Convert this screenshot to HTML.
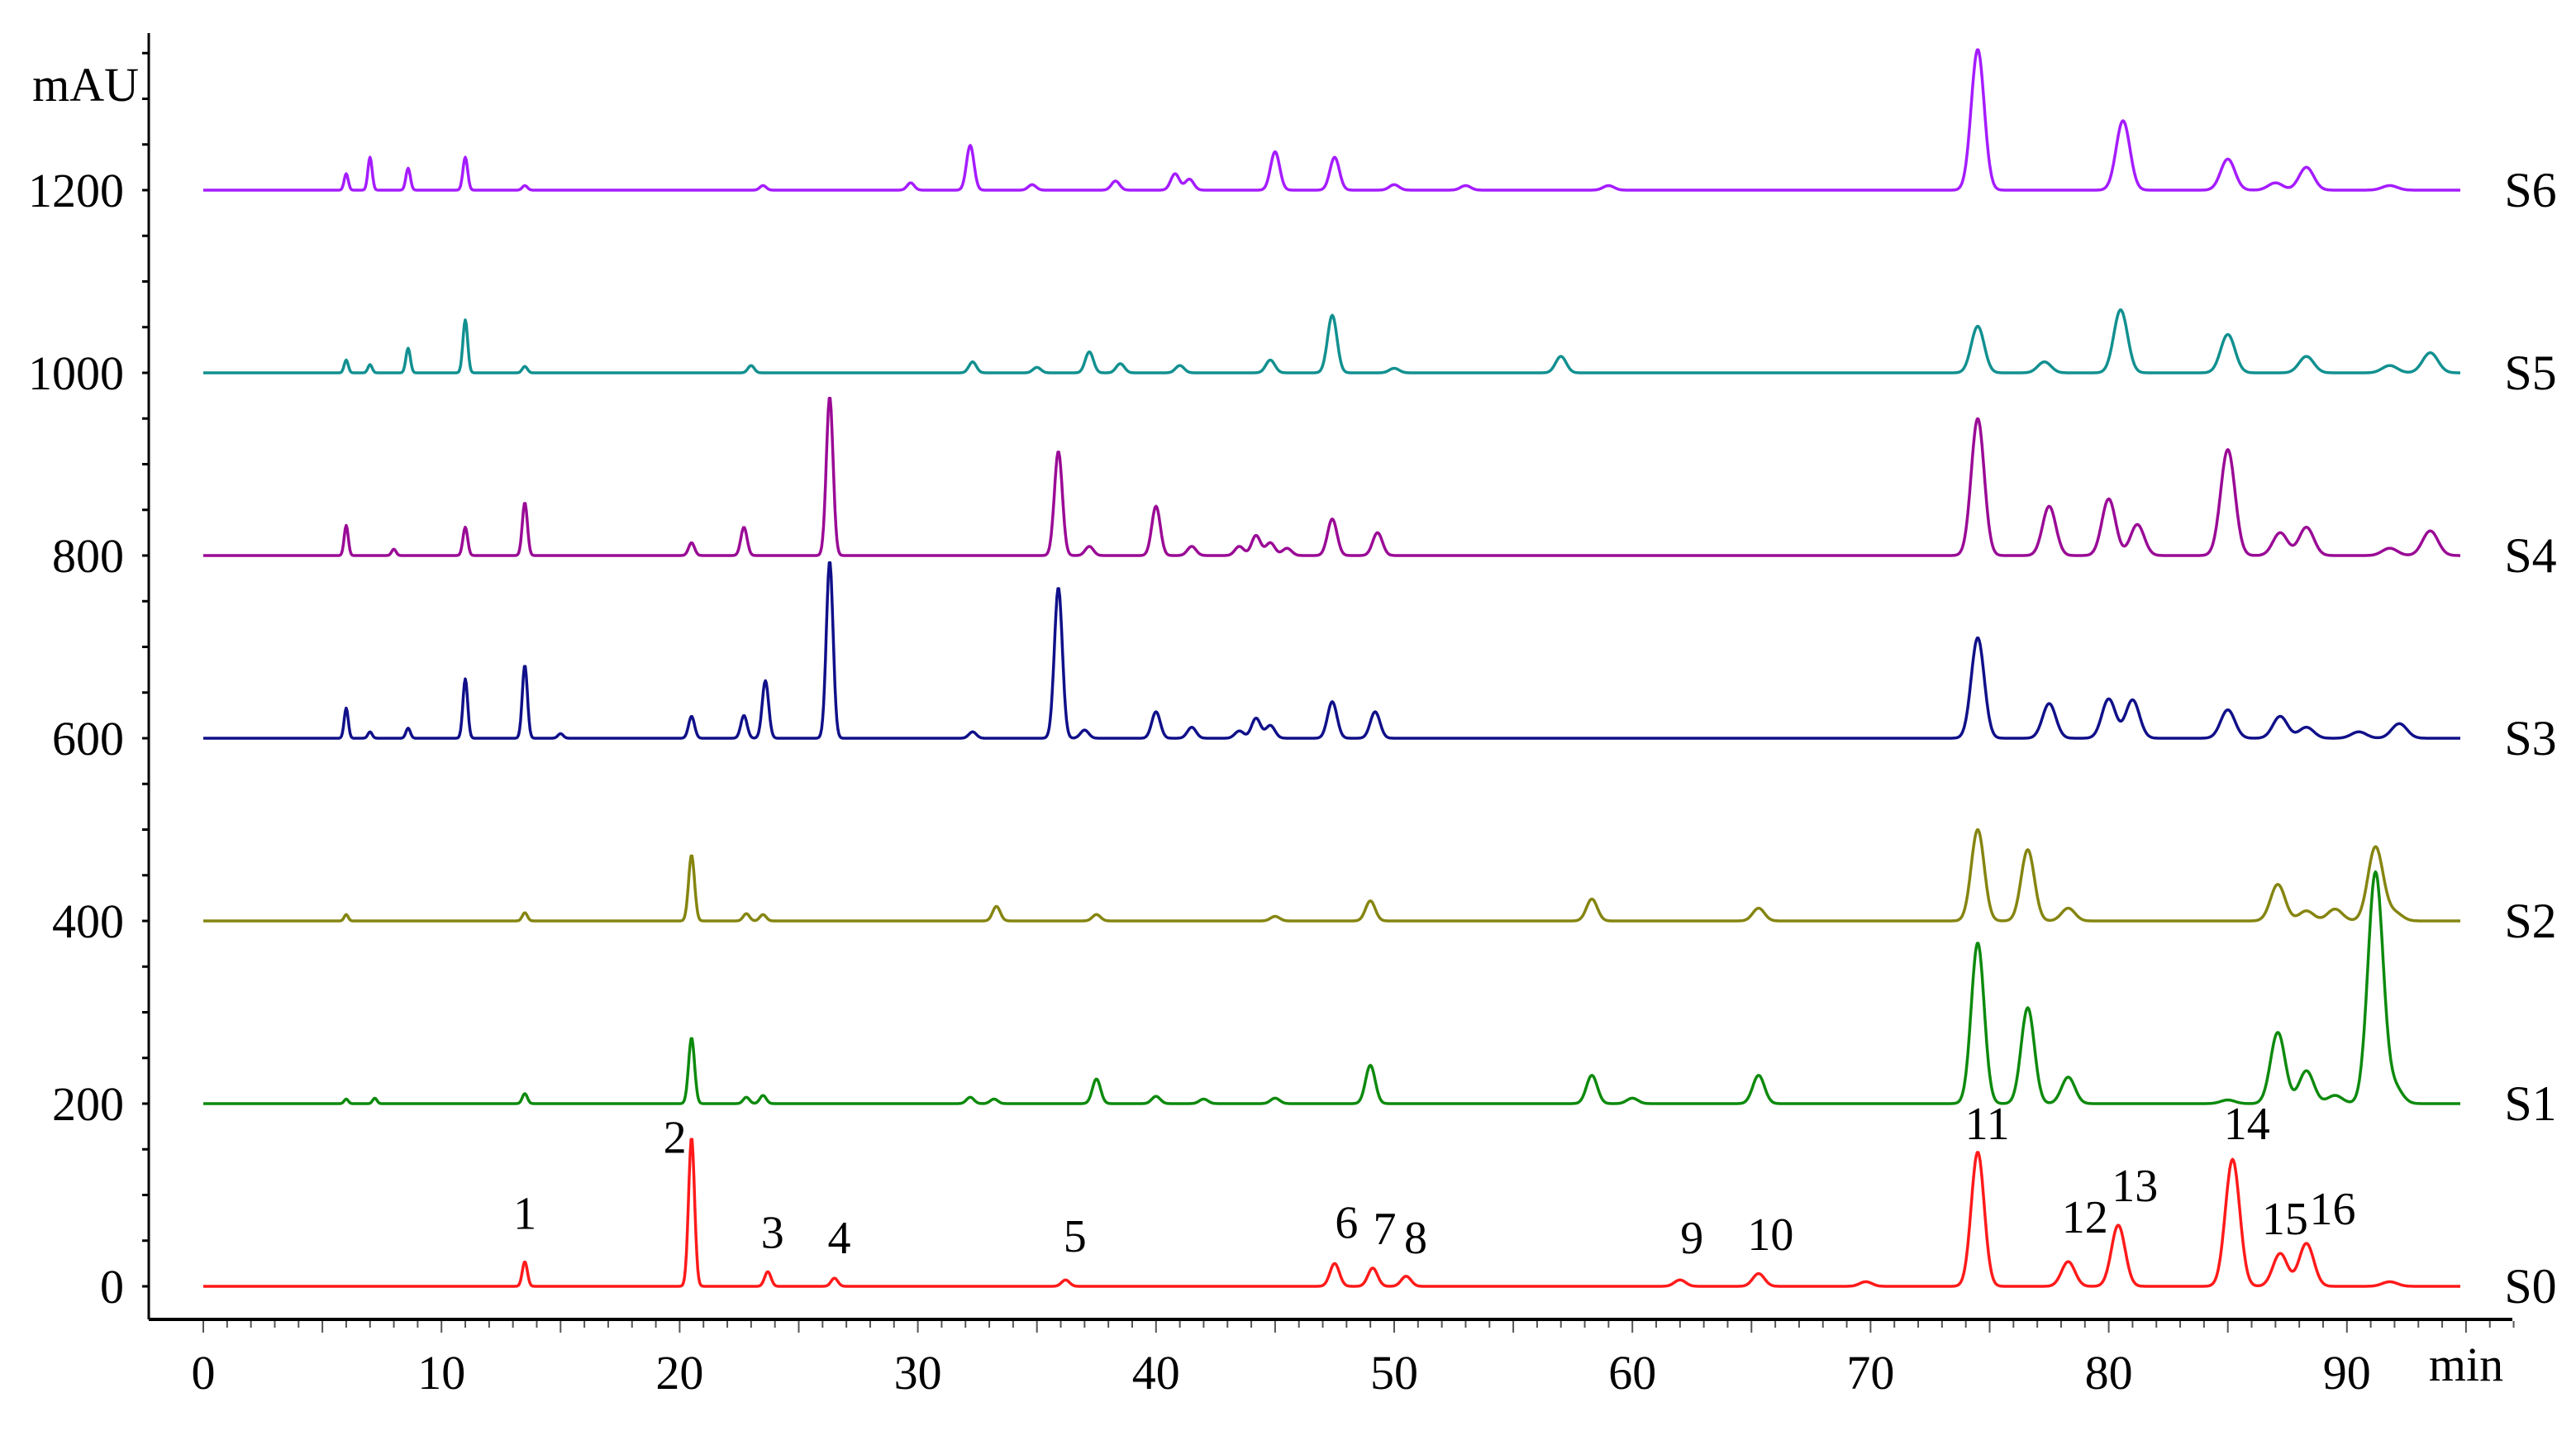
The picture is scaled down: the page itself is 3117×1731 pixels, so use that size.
<!DOCTYPE html>
<html><head><meta charset="utf-8">
<style>
html,body{margin:0;padding:0;background:#fff;}
svg{display:block;}
text{font-family:"Liberation Serif",serif;fill:#000;}
</style></head>
<body>
<svg id="chart" width="3117" height="1731" viewBox="0 0 3117 1731" xmlns="http://www.w3.org/2000/svg">
<g id="axes"></g>
<g id="series"></g>
<g id="labels"></g>
</svg>
<script>
// ---- data ----
const xTickLabels = [0,10,20,30,40,50,60,70,80,90];
const yTickLabels = [0,200,400,600,800,1000,1200];
const seriesNames = ["S0","S1","S2","S3","S4","S5","S6"];
const seriesOffsets = [0,200,400,600,800,1000,1200];
const seriesColors = ["#ff1a1a","#0d8a0d","#858510","#10108a","#9a0a96","#129090","#a51cff"];
// peaks: [time(min), height(mAU)]
const peaksS0 = [[13.5,27],[20.5,163],[23.7,16],[26.5,9],[36.2,7],[47.5,25],[49.1,20],[50.5,11],[62,7],[65.3,14],[69.8,5],[74.5,147],[78.3,27],[80.4,67],[85.2,139],[87.2,36],[88.3,47],[91.8,5]];
const peaksS1 = [[6,5],[7.2,6],[13.5,11],[20.5,72],[22.8,7],[23.5,9],[32.2,7],[33.2,5],[37.5,27],[40,8],[42,5],[45,6],[49,42],[58.3,31],[60,6],[65.3,31],[74.5,176],[76.6,105],[78.3,29],[85,4],[87.1,78],[88.3,36],[89.5,9],[91.2,253],[92,18]];
const peaksS2 = [[6,7],[13.5,9],[20.5,72],[22.8,8],[23.5,7],[33.3,16],[37.5,7],[45,5],[49,22],[58.3,24],[65.3,14],[74.5,100],[76.6,78],[78.3,14],[87.1,40],[88.3,11],[89.5,13],[91.2,81],[92,9]];
const peaksS3 = [[6,33],[7,7],[8.6,11],[11,65],[13.5,80],[15,5],[20.5,24],[22.7,25],[23.6,63],[26.3,194],[32.3,7],[35.9,165],[37,9],[40,29],[41.5,12],[43.5,8],[44.2,22],[44.8,14],[47.4,40],[49.2,29],[74.5,110],[77.5,38],[80,43],[81,42],[85,31],[87.2,24],[88.3,12],[90.5,7],[92.2,16]];
const peaksS4 = [[6,33],[8,7],[11,31],[13.5,58],[20.5,14],[22.7,31],[26.3,174],[35.9,114],[37.2,10],[40,54],[41.5,10],[43.5,10],[44.2,22],[44.8,14],[45.5,8],[47.4,40],[49.3,25],[74.5,150],[77.5,54],[80,62],[81.2,34],[85,116],[87.2,25],[88.3,31],[91.8,8],[93.5,27]];
const peaksS5 = [[6,14],[7,9],[8.6,27],[11,58],[13.5,7],[23,8],[32.3,12],[35,6],[37.2,23],[38.5,10],[41,8],[44.8,14],[47.4,63],[50,5],[57,18],[74.5,51],[77.3,12],[80.5,69],[85,42],[88.3,18],[91.8,8],[93.5,22]];
const peaksS6 = [[6,18],[7,36],[8.6,24],[11,36],[13.5,5],[23.5,5],[29.7,8],[32.2,49],[34.8,6],[38.3,10],[40.8,18],[41.4,12],[45,42],[47.5,36],[50,6],[53,5],[59,5],[74.5,154],[80.6,76],[85,34],[87,8],[88.3,25],[91.8,5]];
const allPeaks = [peaksS0,peaksS1,peaksS2,peaksS3,peaksS4,peaksS5,peaksS6];
const peakLabels = ["1","2","3","4","5","6","7","8","9","10","11","12","13","14","15","16"];
const peakLabelTimes = [13.5,19.8,23.9,26.7,36.6,48.0,49.6,50.9,62.5,65.8,74.9,79.0,81.1,85.8,87.4,89.4];
const peakLabelValues = [63,146,42,36,38,53,46,36,36,40,161,59,93,161,57,68];

// ---- axis functions ----
const X0=246, XS=28.82, Y0=1556, YS=1.105;
const xs = t => X0 + XS*t;
const ys = v => Y0 - YS*v;
const NS='http://www.w3.org/2000/svg';
function mk(tag, attrs, parent){const e=document.createElementNS(NS,tag);for(const k in attrs)e.setAttribute(k,attrs[k]);parent.appendChild(e);return e;}

const axes=document.getElementById('axes');
let yl=mk('line',{x1:180,y1:40,x2:180,y2:1596,stroke:'#000','stroke-width':3},axes);


let xl=mk('line',{x1:180,y1:1596,x2:3040,y2:1596,stroke:'#000','stroke-width':4},axes);


for(let v=0; v<=1400; v+=50){
  const y=ys(v); if(y<45) break;
  const tk=mk('line',{x1:172,y1:y,x2:180,y2:y,stroke:'#000','stroke-width':3},axes);
  
  
}
for(let t=0;t<=97;t+=1){
  const x=xs(t);
  const tk=mk('line',{x1:x,y1:1598,x2:x,y2:t%5===0?1612:1606,stroke:'#555','stroke-width':2},axes);
  
  
}
xTickLabels.forEach(t=>{
  const tx=mk('text',{x:xs(t),y:1680,'font-size':58,'text-anchor':'middle'},axes);
  tx.textContent=t;
  
  
});
yTickLabels.forEach(v=>{
  const tx=mk('text',{x:150,y:ys(v)+20,'font-size':58,'text-anchor':'end'},axes);
  tx.textContent=v;
  
  
});
let ut=mk('text',{x:168,y:122,'font-size':58,'text-anchor':'end'},axes);
ut.textContent='mAU';


let mt=mk('text',{x:2984,y:1670,'font-size':58,'text-anchor':'middle'},axes);
mt.textContent='min';



// ---- series ----
const sg=document.getElementById('series');
allPeaks.forEach((peaks,i)=>{
  let d='';
  for(let t=0;t<=94.8;t+=0.04){
    let v=seriesOffsets[i];
    for(const p of peaks){const s=0.07+0.0027*p[0];const z=(t-p[0])/s;if(Math.abs(z)<6)v+=p[1]*Math.exp(-0.5*z*z);}
    d+=(d?'L':'M')+xs(t).toFixed(1)+','+ys(v).toFixed(1);
  }
  const path=mk('path',{d:d,fill:'none',stroke:seriesColors[i],'stroke-width':3.5,'stroke-linejoin':'round'},sg);
  
  
  const lb=mk('text',{x:3062,y:ys(seriesOffsets[i])+20,'font-size':60,'text-anchor':'middle'},sg);
  lb.textContent=seriesNames[i];
  
  
});

// ---- peak labels ----
const lg=document.getElementById('labels');
peakLabels.forEach((s,i)=>{
  const tx=mk('text',{x:xs(peakLabelTimes[i]),y:ys(peakLabelValues[i]),'font-size':56,'text-anchor':'middle'},lg);
  tx.textContent=s;
  
  
});
</script>
</body></html>
